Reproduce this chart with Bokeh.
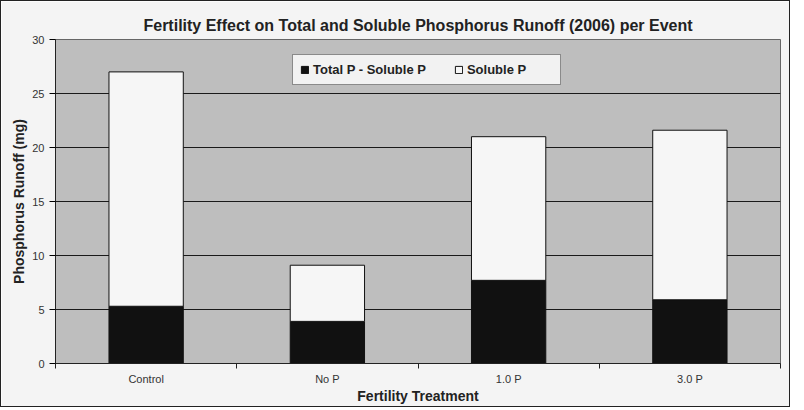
from bokeh.plotting import figure
from bokeh.models import FixedTicker, Legend, LegendItem, ColumnDataSource
from bokeh.embed import file_html
from bokeh.resources import INLINE

categories = ["Control", "No P", "1.0 P", "3.0 P"]
total_minus_soluble = [5.3, 3.9, 7.7, 5.9]
soluble = [21.7, 5.2, 13.3, 15.7]
y_ticks = [0, 5, 10, 15, 20, 25, 30]

xs = [i + 0.5 for i in range(len(categories))]
src = ColumnDataSource(dict(x=xs, a=total_minus_soluble, b=soluble))

FONT = "Liberation Sans"

p = figure(frame_width=725, frame_height=324, output_backend="svg", toolbar_location=None,
           x_range=(0, len(categories)), y_range=(0, 30),
           min_border_left=54, min_border_right=9, min_border_top=38, min_border_bottom=30,
           title="Fertility Effect on Total and Soluble Phosphorus Runoff (2006) per Event")
p.styles = {"border": "1px solid #222222"}

p.background_fill_color = "#bebebe"
p.border_fill_color = "#f4f4f4"
p.outline_line_color = "#666666"

r = p.vbar_stack(["a", "b"], x="x", width=0.41, source=src,
                 color=["#111111", "#f6f6f6"], line_color="#111111", line_width=1)

p.title.text_font = FONT
p.title.text_font_size = "16px"
p.title.text_font_style = "bold"
p.title.align = "center"
p.title.text_color = "#222222"
p.title.offset = 0
p.title.standoff = 12

p.xaxis.ticker = FixedTicker(ticks=xs, minor_ticks=list(range(len(categories) + 1)))
p.xaxis.major_label_overrides = {x: c for x, c in zip(xs, categories)}
p.xaxis.major_tick_line_color = None
p.xaxis.major_tick_out = 0
p.xaxis.major_label_standoff = 4
p.xaxis.minor_tick_line_color = "#222222"
p.xaxis.minor_tick_out = 5
p.xaxis.minor_tick_in = 0
p.xaxis.axis_label = "Fertility Treatment"
p.xaxis.axis_label_standoff = 0

p.yaxis.ticker = FixedTicker(ticks=y_ticks)
p.yaxis.minor_tick_line_color = None
p.yaxis.major_tick_out = 6
p.yaxis.major_tick_in = 0
p.yaxis.axis_label = "Phosphorus Runoff (mg)"
p.yaxis.axis_label_standoff = 2

for ax in (p.xaxis[0], p.yaxis[0]):
    ax.axis_line_color = "#222222"
    ax.major_label_text_font = FONT
    ax.major_label_text_font_size = "11px"
    ax.major_label_text_color = "#333333"
    ax.axis_label_text_font = FONT
    ax.axis_label_text_font_size = "14px"
    ax.axis_label_text_font_style = "bold"
    ax.axis_label_text_color = "#222222"

p.xgrid.grid_line_color = None
p.ygrid.ticker = FixedTicker(ticks=y_ticks)
p.ygrid.grid_line_color = "#1a1a1a"
p.ygrid.grid_line_width = 1

legend = Legend(items=[LegendItem(label="Total P - Soluble P", renderers=[r[0]]),
                       LegendItem(label="Soluble P", renderers=[r[1]])],
                orientation="horizontal", location=(237, 278))
legend.background_fill_color = "#f4f4f4"
legend.border_line_color = "#222222"
legend.label_text_font = FONT
legend.label_text_font_size = "13px"
legend.label_text_font_style = "bold"
legend.label_text_color = "#222222"
legend.glyph_width = 9
legend.glyph_height = 9
legend.label_standoff = 4
legend.label_width = 86
legend.label_height = 15
legend.spacing = 28
legend.padding = 7
legend.margin = 0
p.add_layout(legend)

open("out.html", "w").write(file_html(p, INLINE))
